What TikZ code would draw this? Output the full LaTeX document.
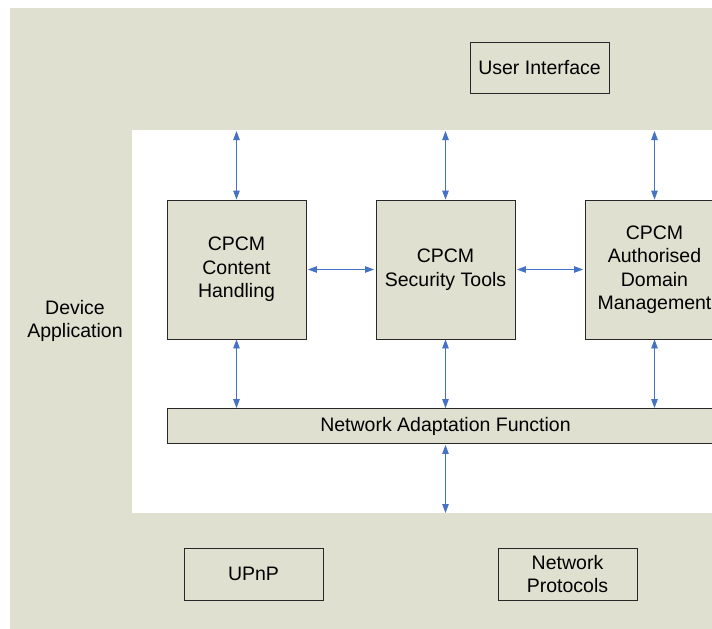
\documentclass[tikz,border=0pt]{standalone}
\usepackage{fontspec}
\setmainfont{Liberation Sans}
\usetikzlibrary{arrows.meta}
\definecolor{panelbeige}{RGB}{223,224,207}
\definecolor{linkblue}{RGB}{68,114,196}
\definecolor{edgegray}{RGB}{40,40,40}
\tikzset{
  x=1pt, y=-1pt,
  blockbox/.style={draw=edgegray, line width=0.9pt, fill=panelbeige,
    align=center, inner sep=0pt, font=\fontsize{19.5}{23.5}\selectfont},
  plainbox/.style={blockbox, fill=none},
  link/.style={draw=linkblue, line width=0.9pt,
    {Triangle[length=9pt,width=6.5pt]}-{Triangle[length=9pt,width=6.5pt]}},
  label/.style={align=center, inner sep=0pt, font=\fontsize{19.5}{23.5}\selectfont}
}
\begin{document}
\begin{tikzpicture}
  \path[use as bounding box, clip] (0,0) rectangle (712,629);
  \fill[white] (0,0) rectangle (712,629);

  % outer device area and inner CPCM panel
  \fill[panelbeige] (10,8) rectangle (760,640);
  \fill[white] (132,130) rectangle (760,513);

  \node[label] (dev) at (75,321) {Device\\Application};

  % top-level interface
  \node[plainbox, minimum width=139pt, minimum height=51pt] (ui) at (539.5,67.5) {User Interface};

  % CPCM functional blocks
  \node[blockbox, minimum width=139pt, minimum height=139pt] (ch) at (236.5,269.5) {CPCM\\Content\\Handling};
  \node[blockbox, minimum width=139pt, minimum height=139pt] (st) at (445.5,269.5) {CPCM\\Security Tools};
  \node[blockbox, minimum width=139pt, minimum height=139pt] (adm) at (654.5,269.5) {CPCM\\Authorised\\Domain\\Management};

  \node[blockbox, minimum width=557pt, minimum height=35pt] (naf) at (445.5,426) {Network Adaptation Function};

  % lower services
  \node[plainbox, minimum width=139pt, minimum height=52pt] (upnp) at (253.5,574) {UPnP};
  \node[plainbox, minimum width=139pt, minimum height=52pt] (np) at (567.5,574) {Network\\Protocols};

  % panel edge end points
  \coordinate (tch) at (236.5,131);
  \coordinate (tst) at (445.5,131);
  \coordinate (tadm) at (654.5,131);
  \coordinate (bnaf) at (445.5,513);

  % connectors
  \draw[link] (tch) -- (ch.north);
  \draw[link] (tst) -- (st.north);
  \draw[link] (tadm) -- (adm.north);
  \draw[link] ([xshift=1.5pt]ch.east) -- ([xshift=-1.5pt]st.west);
  \draw[link] ([xshift=1.5pt]st.east) -- ([xshift=-1.5pt]adm.west);
  \draw[link] (ch.south) -- (ch.south |- naf.north);
  \draw[link] (st.south) -- (st.south |- naf.north);
  \draw[link] (adm.south) -- (adm.south |- naf.north);
  \draw[link] ([yshift=-1pt]naf.south) -- (bnaf);
\end{tikzpicture}
\end{document}
